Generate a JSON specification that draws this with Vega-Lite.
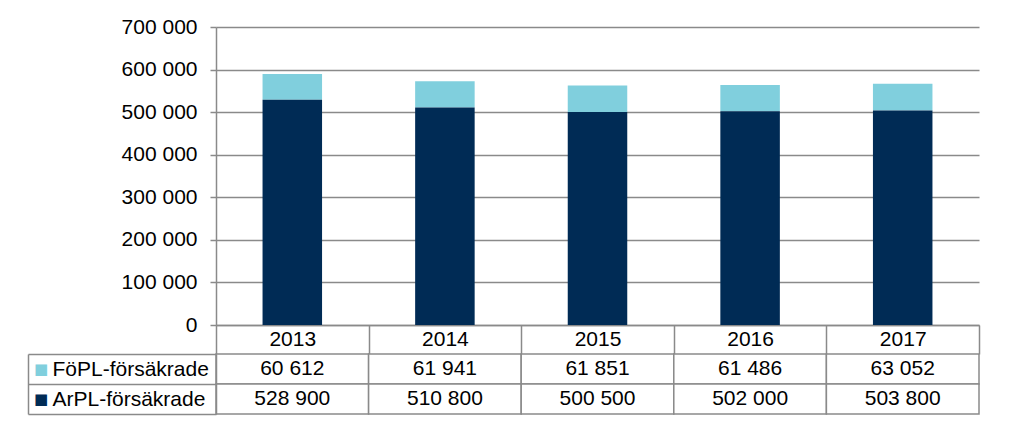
{
  "$schema": "https://vega.github.io/schema/vega-lite/v6.json",
  "padding": {"left": 27, "top": 16, "right": 10, "bottom": 10},
  "config": {
    "locale": {"number": {"decimal": ",", "thousands": " ", "grouping": [3], "currency": ["", ""]}},
    "font": "Liberation Sans",
    "view": {"stroke": null},
    "axis": {
      "labelFont": "Liberation Sans", "labelFontSize": 21, "labelColor": "#000000",
      "domainColor": "#8a8a8a", "tickColor": "#8a8a8a", "gridColor": "#8a8a8a",
      "domainWidth": 1.5, "tickWidth": 1.5, "gridWidth": 1.5, "title": null
    }
  },
  "bounds": "flush",
  "spacing": 29,
  "datasets": {
    "d": [
      {"year": "2013", "series": "FöPL-försäkrade", "value": 60612},
      {"year": "2014", "series": "FöPL-försäkrade", "value": 61941},
      {"year": "2015", "series": "FöPL-försäkrade", "value": 61851},
      {"year": "2016", "series": "FöPL-försäkrade", "value": 61486},
      {"year": "2017", "series": "FöPL-försäkrade", "value": 63052},
      {"year": "2013", "series": "ArPL-försäkrade", "value": 528900},
      {"year": "2014", "series": "ArPL-försäkrade", "value": 510800},
      {"year": "2015", "series": "ArPL-försäkrade", "value": 500500},
      {"year": "2016", "series": "ArPL-försäkrade", "value": 502000},
      {"year": "2017", "series": "ArPL-försäkrade", "value": 503800}
    ]
  },
  "vconcat": [
    {
      "width": 763,
      "height": 298,
      "data": {"name": "d"},
      "mark": {"type": "bar", "width": {"band": 0.39}},
      "encoding": {
        "x": {
          "field": "year", "type": "nominal",
          "scale": {"paddingInner": 0, "paddingOuter": 0},
          "axis": {"labelAngle": 0, "tickBand": "extent", "tickSize": 29, "labelPadding": -15, "labelBaseline": "middle", "grid": false}
        },
        "y": {
          "field": "value", "type": "quantitative", "stack": "zero",
          "scale": {"domain": [0, 700000]},
          "axis": {"values": [0, 100000, 200000, 300000, 400000, 500000, 600000, 700000], "format": ",d", "tickSize": 6, "labelPadding": 13, "grid": true}
        },
        "color": {
          "field": "series", "type": "nominal",
          "scale": {"domain": ["ArPL-försäkrade", "FöPL-försäkrade"], "range": ["#002b55", "#80cfdd"]},
          "legend": null
        },
        "order": {"field": "series", "sort": "ascending"}
      }
    },
    {
      "width": 763,
      "height": 60,
      "data": {"name": "d"},
      "layer": [
        {
          "mark": {"type": "rect", "fill": "#ffffff", "stroke": "#8a8a8a", "strokeWidth": 1.5},
          "encoding": {
            "x": {"field": "year", "type": "nominal", "scale": {"paddingInner": 0, "paddingOuter": 0}, "axis": null},
            "y": {
              "field": "series", "type": "nominal",
              "sort": ["FöPL-försäkrade", "ArPL-försäkrade"],
              "scale": {"paddingInner": 0, "paddingOuter": 0},
              "axis": {"orient": "left", "tickBand": "extent", "tickSize": 188, "labelAlign": "left", "labelPadding": -24, "domain": true}
            }
          }
        },
        {
          "mark": {"type": "text", "fontSize": 21, "font": "Liberation Sans", "color": "#000000"},
          "encoding": {
            "x": {"field": "year", "type": "nominal", "axis": null},
            "y": {
              "field": "series", "type": "nominal",
              "sort": ["FöPL-försäkrade", "ArPL-försäkrade"],
              "axis": {
                "orient": "left", "offset": 188, "ticks": false, "tickSize": 0,
                "labelExpr": "'■'", "labelFont": "DejaVu Sans", "labelFontSize": 15,
                "labelAlign": "center", "labelPadding": -12.5,
                "labelColor": {"condition": {"test": "datum.value == 'FöPL-försäkrade'", "value": "#80cfdd"}, "value": "#002b55"},
                "domain": true
              }
            },
            "text": {"field": "value", "type": "quantitative", "format": ",d"}
          }
        }
      ],
      "resolve": {"axis": {"y": "independent"}}
    }
  ]
}
